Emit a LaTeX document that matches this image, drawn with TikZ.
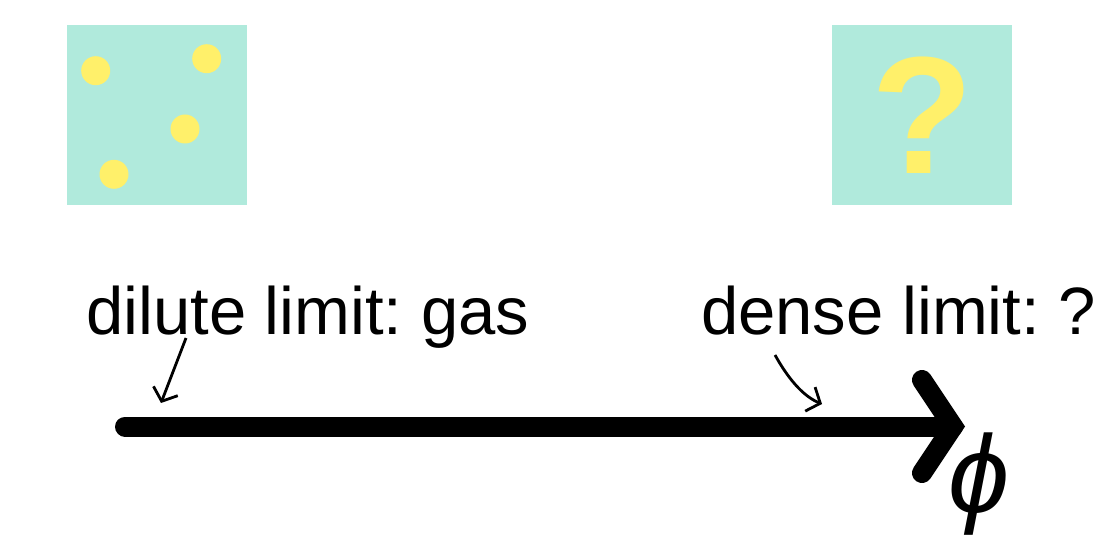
\documentclass[tikz,border=0pt]{standalone}
\usepackage{fontspec}
\setmainfont{Liberation Sans}
\usetikzlibrary{arrows.meta}
\definecolor{boxteal}{RGB}{176,234,220}
\definecolor{dotyellow}{RGB}{255,240,106}
\frenchspacing
\begin{document}
\begin{tikzpicture}[x=1pt,y=-1pt,
  panel/.style={fill=boxteal,draw=none,minimum size=180pt,inner sep=0pt},
  particle/.style={fill=dotyellow,draw=none,circle,minimum size=29pt,inner sep=0pt},
  label/.style={font=\fontsize{67}{80}\selectfont,inner sep=0pt,anchor=base west},
  pointer/.style={line width=2.8pt,-{Straight Barb[length=11pt,width=26pt,line width=2.8pt]}},
  axisline/.style={line width=20pt,line cap=round}]
\useasboundingbox (0,0) rectangle (1093,553);
% panels
\node[panel] (dilute) at (157,115) {};
\node[panel] (dense) at (922,115) {};
\node[particle] (p1) at (95.7,70.7) {};
\node[particle] (p2) at (206.7,58.7) {};
\node[particle] (p3) at (185,129) {};
\node[particle] (p4) at (114,174.3) {};
\node[font=\bfseries\fontsize{167}{190}\selectfont,text=dotyellow,inner sep=0pt] (qm) at (922,115) {?};
% labels
\node[label] (dl) at (86,335) {dilute limit: gas};
\node[label] (dn) at (701,335) {dense limit: ?};
% axis
\coordinate (a0) at (125,426.5);
\coordinate (a1) at (953,426.5);
\coordinate (h1) at (922,380);
\coordinate (h2) at (922,473);
\draw[axisline] (a0) -- (a1);
\draw[axisline,line join=miter] (h1) -- (a1) -- (h2);
\node[font=\itshape\fontsize{110}{120}\selectfont,inner sep=0pt] (phi) at (979,484) {ϕ};
% pointers
\coordinate (s1) at (186,338);
\coordinate (e1) at (161,403);
\coordinate (s2) at (775,355);
\coordinate (e2) at (822,404);
\draw[pointer] (s1) -- (e1);
\draw[pointer] (s2) .. controls (790,382) and (805,397) .. (e2);
\end{tikzpicture}
\end{document}
